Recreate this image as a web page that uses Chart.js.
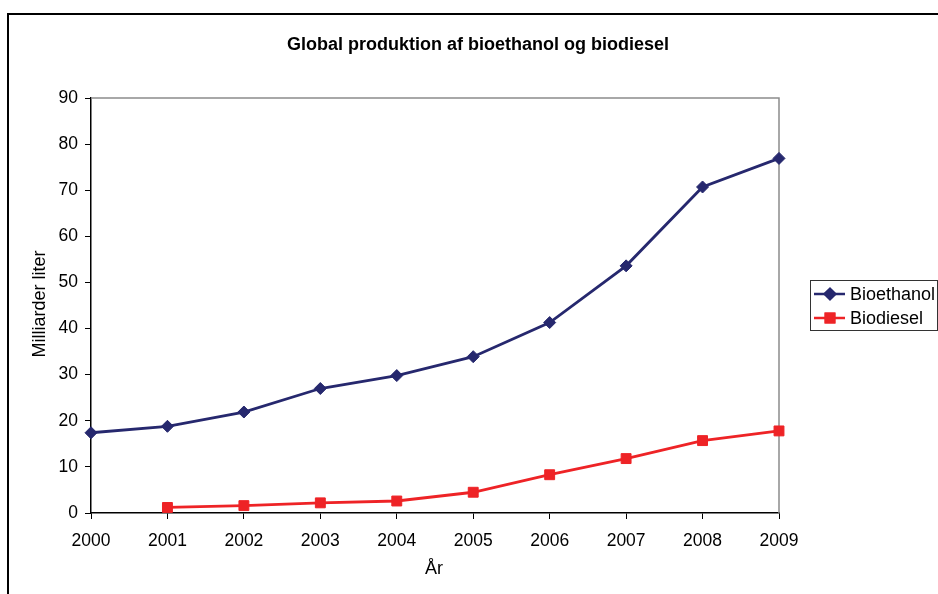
<!DOCTYPE html>
<html>
<head>
<meta charset="utf-8">
<script src="https://cdn.jsdelivr.net/npm/chart.js@4/dist/chart.umd.min.js"></script>
<style>
  html, body { margin: 0; padding: 0; background: #fff; }
  #wrap { position: relative; width: 938px; height: 594px; }
</style>
</head>
<body>
<div id="wrap"><canvas id="c" width="938" height="594"></canvas></div>
<script>
// Global production of bioethanol and biodiesel (billion litres)
const years = ['2000', '2001', '2002', '2003', '2004', '2005', '2006', '2007', '2008', '2009'];
const bioethanol = [17.4, 18.8, 21.9, 27.0, 29.8, 33.9, 41.3, 53.6, 70.7, 76.9];
const biodiesel = [null, 1.2, 1.6, 2.2, 2.6, 4.5, 8.3, 11.8, 15.7, 17.8];
const yTicks = [0, 10, 20, 30, 40, 50, 60, 70, 80, 90];

const chartTitle = 'Global produktion af bioethanol og biodiesel';
const xTitle = 'År';
const yTitle = 'Milliarder liter';

const FONT = 'Arial, "Liberation Sans", sans-serif';
const NAVY = '#26286e';
const RED = '#ee2326';

// Frame, plot border, titles and a line-style legend
const decorations = {
  id: 'decorations',
  beforeDraw(chart) {
    const ctx = chart.ctx;
    ctx.save();
    ctx.fillStyle = '#fff';
    ctx.fillRect(0, 0, chart.width, chart.height);
    ctx.strokeStyle = '#000';
    ctx.lineWidth = 2;
    ctx.beginPath();
    ctx.moveTo(8, chart.height + 2);
    ctx.lineTo(8, 14);
    ctx.lineTo(chart.width + 2, 14);
    ctx.stroke();
    ctx.restore();
  },
  beforeDatasetsDraw(chart) {
    const ctx = chart.ctx;
    const a = chart.chartArea;
    ctx.save();
    // top and right plot edges
    ctx.strokeStyle = '#8c8c8c';
    ctx.lineWidth = 1.5;
    ctx.beginPath();
    ctx.moveTo(a.left, a.top);
    ctx.lineTo(a.right, a.top);
    ctx.lineTo(a.right, a.bottom);
    ctx.stroke();
    ctx.restore();
  },
  afterDatasetsDraw(chart) {
    const ctx = chart.ctx;
    ctx.save();
    // chart title
    ctx.fillStyle = '#000';
    ctx.font = 'bold 18px ' + FONT;
    ctx.textAlign = 'center';
    ctx.textBaseline = 'middle';
    ctx.fillText(chartTitle, 478, 45);

    // axis titles
    ctx.font = '18px ' + FONT;
    ctx.fillText(xTitle, 434, 569);
    ctx.save();
    ctx.translate(40, 304);
    ctx.rotate(-Math.PI / 2);
    ctx.fillText(yTitle, 0, 0);
    ctx.restore();

    // legend
    ctx.strokeStyle = '#333';
    ctx.lineWidth = 1;
    ctx.strokeRect(810.5, 280.5, 127, 50);
    const rows = [
      { ds: chart.data.datasets[0], y: 294 },
      { ds: chart.data.datasets[1], y: 318 }
    ];
    rows.forEach(r => {
      ctx.strokeStyle = r.ds.borderColor;
      ctx.lineWidth = 2.5;
      ctx.beginPath();
      ctx.moveTo(814, r.y);
      ctx.lineTo(845, r.y);
      ctx.stroke();
      Chart.helpers.drawPoint(ctx, {
        pointStyle: r.ds.pointStyle,
        radius: r.ds.pointRadius * 0.85,
        borderWidth: 1,
        rotation: 0
      }, 830, r.y);
      ctx.fillStyle = r.ds.pointBackgroundColor;
      ctx.strokeStyle = r.ds.pointBorderColor;
      ctx.fill();
      ctx.stroke();
      ctx.fillStyle = '#000';
      ctx.font = '18px ' + FONT;
      ctx.textAlign = 'left';
      ctx.textBaseline = 'middle';
      ctx.fillText(r.ds.label, 850, r.y + 1);
    });
    ctx.restore();
  }
};

new Chart(document.getElementById('c'), {
  type: 'line',
  data: {
    labels: years,
    datasets: [
      {
        label: 'Bioethanol',
        data: bioethanol,
        borderColor: NAVY,
        backgroundColor: NAVY,
        pointBackgroundColor: NAVY,
        pointBorderColor: NAVY,
        borderWidth: 2.8,
        pointStyle: 'rectRot',
        pointRadius: 6,
        pointBorderWidth: 1,
        tension: 0,
        clip: false
      },
      {
        label: 'Biodiesel',
        data: biodiesel,
        borderColor: RED,
        backgroundColor: RED,
        pointBackgroundColor: RED,
        pointBorderColor: RED,
        borderWidth: 2.8,
        pointStyle: 'rect',
        pointRadius: 7,
        pointBorderWidth: 1,
        tension: 0,
        spanGaps: false,
        clip: false
      }
    ]
  },
  options: {
    responsive: false,
    animation: false,
    devicePixelRatio: 1,
    layout: { padding: { left: 0, top: 98, right: 159, bottom: 0 } },
    plugins: {
      legend: { display: false },
      title: { display: false },
      tooltip: { enabled: false }
    },
    scales: {
      x: {
        type: 'category',
        offset: false,
        afterFit(scale) { scale.height = 81; },
        grid: {
          drawOnChartArea: false,
          drawTicks: true,
          tickLength: 6,
          color: '#000',
          tickColor: '#000'
        },
        border: { color: '#000', width: 1.5 },
        ticks: {
          color: '#000',
          font: { family: FONT, size: 17.5 },
          padding: 12,
          maxRotation: 0,
          autoSkip: false
        }
      },
      y: {
        min: 0,
        max: 90,
        afterFit(scale) { scale.width = 91; },
        afterBuildTicks(scale) { scale.ticks = yTicks.map(v => ({ value: v })); },
        grid: {
          drawOnChartArea: false,
          drawTicks: true,
          tickLength: 6,
          color: '#000',
          tickColor: '#000'
        },
        border: { color: '#000', width: 1.5 },
        ticks: {
          color: '#000',
          font: { family: FONT, size: 17.5 },
          padding: 7
        }
      }
    }
  },
  plugins: [decorations]
});
</script>
</body>
</html>
